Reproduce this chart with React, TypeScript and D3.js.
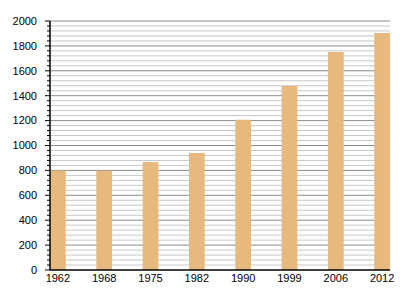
import React from "react";
import * as d3 from "d3";

const years = ["1962", "1968", "1975", "1982", "1990", "1999", "2006", "2012"];
const population = [798, 797, 867, 940, 1207, 1478, 1751, 1904];
const majorTicks = [0, 200, 400, 600, 800, 1000, 1200, 1400, 1600, 1800, 2000];

export default function App() {
  const W = 400, H = 300;
  const left = 50, right = 390, top = 21, bottom = 270;
  const x = d3.scaleBand<string>().domain(years).range([left, right]).paddingInner(0.66).paddingOuter(0);
  const y = d3.scaleLinear().domain([0, 2000]).range([bottom, top]);
  const minor = d3.range(0, 2001, 40).filter((v) => v % 200 !== 0);
  const font = "'Liberation Sans', Arial, sans-serif";
  return (
    <svg width={W} height={H} style={{ position: "absolute", left: 0, top: 0 }}>
      <rect width={W} height={H} fill="#fff" />
      {minor.map((v) => (
        <g key={"m" + v}>
          <line x1={left} x2={right} y1={y(v)} y2={y(v)} stroke="#c8c8c8" strokeWidth={1} />
          <line x1={left - 3} x2={left} y1={y(v)} y2={y(v)} stroke="#000" strokeWidth={1} />
        </g>
      ))}
      {majorTicks.map((v) => (
        <g key={"M" + v}>
          {v > 0 && <line x1={left} x2={right} y1={y(v)} y2={y(v)} stroke="#8c8c8c" strokeWidth={1} />}
          <line x1={left - 5} x2={left} y1={y(v)} y2={y(v)} stroke="#000" strokeWidth={1} />
          <text x={37} y={y(v)} dy="0.35em" textAnchor="end" fontFamily={font} fontSize={11} fill="#000">{v}</text>
        </g>
      ))}
      {years.map((yr, i) => (
        <rect key={yr} x={x(yr)!} y={y(population[i])} width={x.bandwidth()} height={bottom - y(population[i])} fill="#e8b97f" />
      ))}
      <line x1={left} x2={left} y1={top} y2={bottom} stroke="#000" strokeWidth={1.5} />
      <line x1={left} x2={right} y1={bottom} y2={bottom} stroke="#000" strokeWidth={1.5} />
      {years.map((yr) => (
        <text key={"t" + yr} x={x(yr)! + x.bandwidth() / 2} y={282} textAnchor="middle" fontFamily={font} fontSize={11} fill="#000">{yr}</text>
      ))}
    </svg>
  );
}
